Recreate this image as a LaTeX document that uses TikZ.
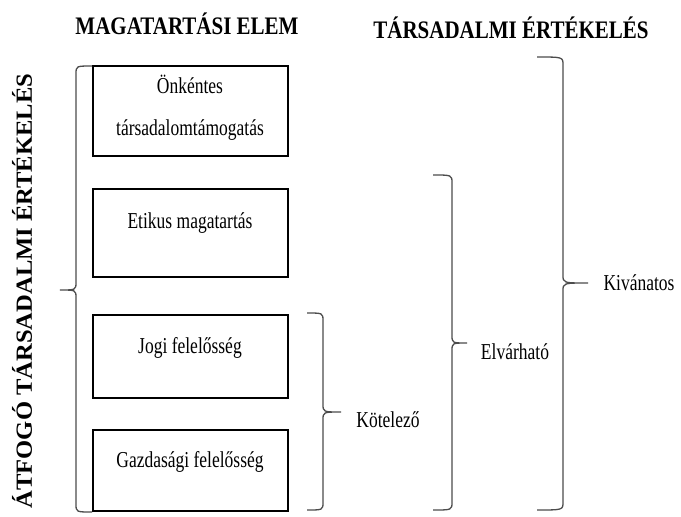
\documentclass[tikz,border=0pt]{standalone}
\usepackage{fontspec}
\usepackage{graphicx}
\setmainfont{Liberation Serif}[BoldFont={Liberation Serif Bold}]
\newcommand{\stt}[1]{\scalebox{1}[1.2]{#1}}
\newcommand{\sttb}[1]{\scalebox{1}[1.3]{#1}}
\begin{document}
\begin{tikzpicture}[x=1pt,y=-1pt,
  box/.style={draw=black,line width=2.8pt,minimum width=195pt,minimum height=#1,inner sep=0pt},
  btxt/.style={font=\fontsize{17.5}{20}\selectfont,inner sep=0pt},
  ttl/.style={font=\fontsize{21}{24}\selectfont\bfseries,inner sep=0pt},
  brc/.style={draw=black!70,line width=1.3pt}]
\useasboundingbox (0,0) rectangle (681,517);
% titles
\node[ttl] (t1) at (187,24) {\stt{MAGATARTÁSI ELEM}};
\node[ttl] (t2) at (511,28) {\stt{TÁRSADALMI ÉRTÉKELÉS}};
\node[ttl,rotate=90] (t3) at (22,291) {\scalebox{1.17}[1.1]{ÁTFOGÓ TÁRSADALMI ÉRTÉKELÉS}};
% boxes
\node[box=90pt] (b1) at (190.5,111) {};
\node[box=88pt] (b2) at (190.5,233) {};
\node[box=83pt] (b3) at (190.5,356.5) {};
\node[box=81pt] (b4) at (190.5,470.5) {};
\node[btxt] (x1a) at (190,84) {\sttb{Önkéntes}};
\node[btxt] (x1b) at (190,130) {\sttb{társadalomtámogatás}};
\node[btxt] (x2) at (190,223) {\sttb{Etikus magatartás}};
\node[btxt] (x3) at (190,348) {\sttb{Jogi felelősség}};
\node[btxt] (x4) at (190,462) {\sttb{Gazdasági felelősség}};
% labels
\node[btxt] (k) at (388,420) {\sttb{Kötelező}};
\node[btxt] (e) at (515,352) {\sttb{Elvárható}};
\node[btxt] (v) at (639,283) {\sttb{Kivánatos}};
% left brace
\draw[brc] (92,66) .. controls (76,66) .. (76,74) -- (76,282) .. controls (76,290) .. (60,290)
  .. controls (76,290) .. (76,298) -- (76,504) .. controls (76,512) .. (92,512);
% Kotelezo brace
\draw[brc] (307,313) .. controls (323,313) .. (323,321) -- (323,404) .. controls (323,412) .. (341,412)
  .. controls (323,412) .. (323,420) -- (323,502) .. controls (323,510) .. (307,510);
% Elvarhato brace
\draw[brc] (433,175) .. controls (452,175) .. (452,183) -- (452,335) .. controls (452,343) .. (467,343)
  .. controls (452,343) .. (452,351) -- (452,502) .. controls (452,510) .. (433,510);
% Kivanatos brace
\draw[brc] (537,57) .. controls (563,57) .. (563,65) -- (563,275) .. controls (563,283) .. (588,283)
  .. controls (563,283) .. (563,291) -- (563,502) .. controls (563,510) .. (537,510);
\end{tikzpicture}
\end{document}
